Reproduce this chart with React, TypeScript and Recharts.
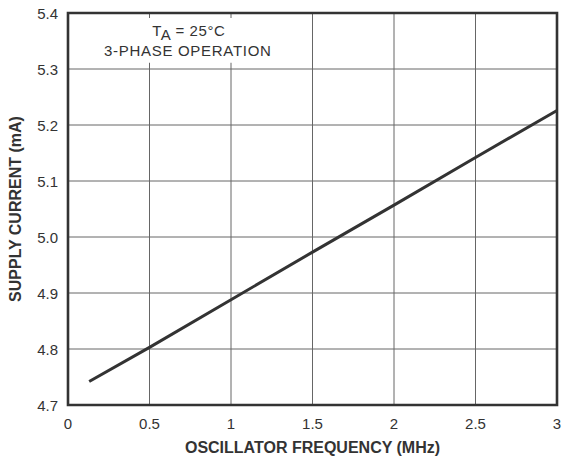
import React from 'react';
import { LineChart, Line, XAxis, YAxis, CartesianGrid, ReferenceArea } from 'recharts';

const frequencyMHz = [0.13, 0.5, 1, 1.5, 2, 2.5, 3];
const supplyCurrentMA = [4.742, 4.803, 4.888, 4.973, 5.057, 5.142, 5.226];
const xTicks = [0, 0.5, 1, 1.5, 2, 2.5, 3];
const yTicks = [4.7, 4.8, 4.9, 5.0, 5.1, 5.2, 5.3, 5.4];
const xTitle = 'OSCILLATOR FREQUENCY (MHz)';
const yTitle = 'SUPPLY CURRENT (mA)';
const noteLine2 = '3-PHASE OPERATION';

const data = frequencyMHz.map((f, i) => ({ f, current: supplyCurrentMA[i] }));

const FONT = '"Liberation Sans", Arial, Helvetica, sans-serif';
const TEXT = '#333333';

const XTick = (props: any) => {
  const { x, payload } = props;
  return (
    <text x={x} y={429} textAnchor="middle" fontSize={15} fontFamily={FONT} fill={TEXT}>
      {String(payload.value)}
    </text>
  );
};

const YTick = (props: any) => {
  const { y, payload } = props;
  return (
    <text x={58} y={y + 5.5} textAnchor="end" fontSize={15} fontFamily={FONT} fill={TEXT}>
      {Number(payload.value).toFixed(1)}
    </text>
  );
};

const XLabel = (props: any) => {
  const vb = props.viewBox || {};
  const cx = (vb.x ?? 68) + (vb.width ?? 489) / 2;
  return (
    <text x={cx} y={453} textAnchor="middle" fontSize={16} fontWeight="bold" fontFamily={FONT} fill={TEXT}>
      {xTitle}
    </text>
  );
};

const YLabel = (props: any) => {
  const vb = props.viewBox || {};
  const cy = (vb.y ?? 13) + (vb.height ?? 392) / 2;
  return (
    <text
      x={20.5}
      y={cy}
      transform={`rotate(-90, 20.5, ${cy})`}
      textAnchor="middle"
      fontSize={16}
      fontWeight="bold"
      fontFamily={FONT}
      fill={TEXT}
    >
      {yTitle}
    </text>
  );
};

const NoteLabel = (props: any) => {
  const vb = props.viewBox || {};
  const cx = (vb.x ?? 100) + (vb.width ?? 176) / 2;
  return (
    <g>
      <text x={cx + 1} y={35.7} textAnchor="middle" fontSize={15} fontFamily={FONT} fill={TEXT} style={{ letterSpacing: 0.6 }}>
        <tspan>T</tspan>
        <tspan dy={4.3}>A</tspan>
        <tspan dy={-4.3}> = 25°C</tspan>
      </text>
      <text x={cx} y={55.7} textAnchor="middle" fontSize={15} fontFamily={FONT} fill={TEXT} style={{ letterSpacing: 0.7 }}>
        {noteLine2}
      </text>
    </g>
  );
};

export default function App() {
  return (
    <div style={{ position: 'absolute', left: 0, top: 0, width: 564, height: 462, background: '#fff' }}>
      <LineChart width={564} height={462} data={data} margin={{ top: 13, right: 7, bottom: 0, left: 0 }}>
        <CartesianGrid stroke="#666666" strokeWidth={1} />
        <XAxis
          type="number"
          dataKey="f"
          domain={[0, 3]}
          ticks={xTicks}
          interval={0}
          axisLine={false}
          tickLine={false}
          height={57}
          tick={<XTick />}
          label={{ content: <XLabel /> }}
        />
        <YAxis
          type="number"
          domain={[4.7, 5.4]}
          ticks={yTicks}
          interval={0}
          axisLine={false}
          tickLine={false}
          width={68}
          tick={<YTick />}
          label={{ content: <YLabel /> }}
        />
        <ReferenceArea
          x1={0.2}
          x2={1.27}
          y1={5.311}
          y2={5.391}
          fill="#ffffff"
          fillOpacity={1}
          stroke="none"
          label={{ content: <NoteLabel /> }}
        />
        <ReferenceArea x1={0} x2={3} y1={4.7} y2={5.4} fill="none" stroke="#333333" strokeWidth={2.6} />
        <Line
          type="linear"
          dataKey="current"
          stroke="#333333"
          strokeWidth={3}
          dot={false}
          isAnimationActive={false}
        />
      </LineChart>
    </div>
  );
}
